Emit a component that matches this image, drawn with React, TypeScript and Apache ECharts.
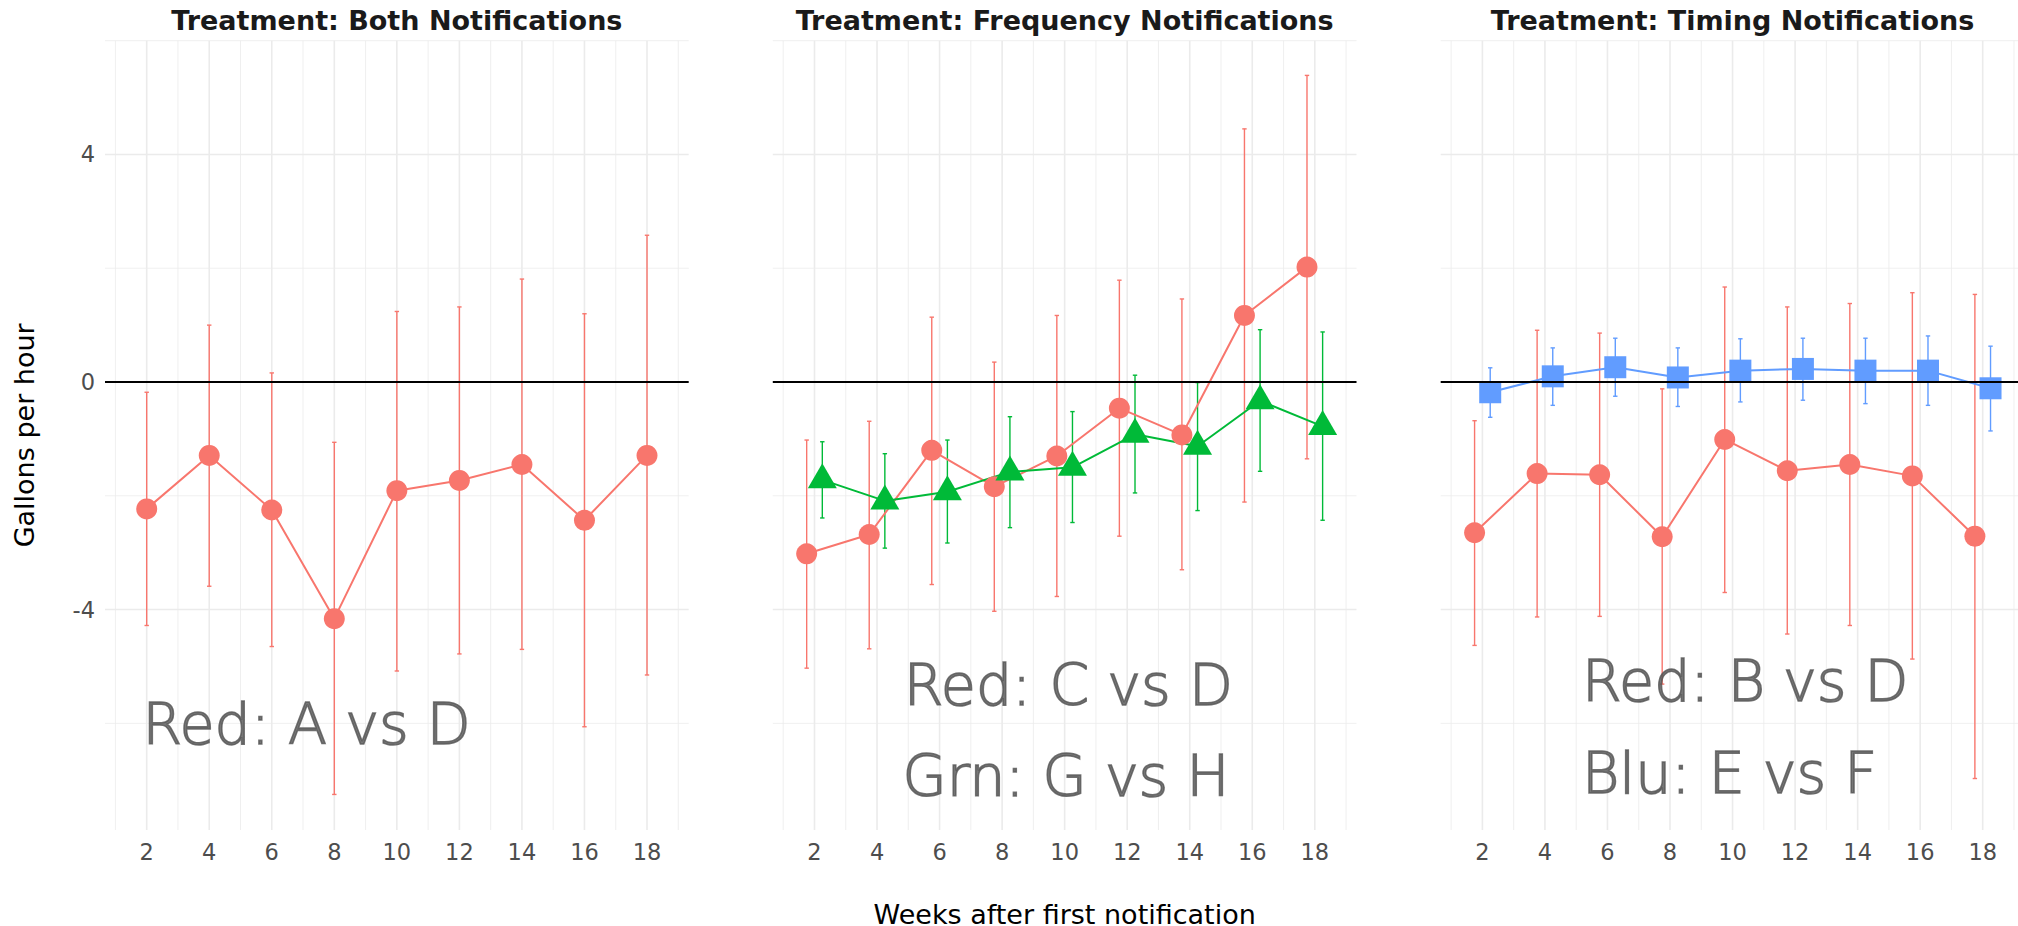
import React, { useEffect, useRef } from "react";
import * as echarts from "echarts";

// ---------- data ----------
const WEEKS = [2, 4, 6, 8, 10, 12, 14, 16, 18];
const X_TICK_LABELS = [2, 4, 6, 8, 10, 12, 14, 16, 18];
const Y_TICK_LABELS = [-4, 0, 4];
const X_MAJOR = [2, 4, 6, 8, 10, 12, 14, 16, 18];
const X_MINOR = [1, 3, 5, 7, 9, 11, 13, 15, 17, 19];
const Y_MAJOR = [-4, 0, 4];
const Y_MINOR = [-6, -2, 2, 6];

const PANEL_TITLES = [
  "Treatment: Both Notifications",
  "Treatment: Frequency Notifications",
  "Treatment: Timing Notifications",
];
const X_TITLE = "Weeks after first notification";
const Y_TITLE = "Gallons per hour";

// Panel 1: Red A vs D
const BOTH_RED_EST = [-2.23, -1.29, -2.25, -4.16, -1.91, -1.73, -1.45, -2.43, -1.29];
const BOTH_RED_LO = [-4.28, -3.59, -4.65, -7.25, -5.08, -4.78, -4.7, -6.06, -5.15];
const BOTH_RED_HI = [-0.18, 1.0, 0.16, -1.06, 1.24, 1.32, 1.81, 1.2, 2.58];

// Panel 2: Red C vs D, Green G vs H
const FREQ_RED_EST = [-3.02, -2.68, -1.2, -1.84, -1.3, -0.46, -0.93, 1.17, 2.02];
const FREQ_RED_LO = [-5.03, -4.69, -3.56, -4.03, -3.77, -2.71, -3.3, -2.11, -1.35];
const FREQ_RED_HI = [-1.02, -0.69, 1.14, 0.35, 1.17, 1.79, 1.46, 4.45, 5.39];
const FREQ_GRN_EST = [-1.72, -2.09, -1.93, -1.58, -1.5, -0.92, -1.13, -0.33, -0.78];
const FREQ_GRN_LO = [-2.39, -2.92, -2.83, -2.56, -2.47, -1.95, -2.26, -1.57, -2.43];
const FREQ_GRN_HI = [-1.05, -1.26, -1.02, -0.61, -0.52, 0.12, -0.01, 0.92, 0.88];

// Panel 3: Red B vs D, Blue E vs F
const TIME_RED_EST = [-2.65, -1.61, -1.63, -2.72, -1.01, -1.56, -1.45, -1.65, -2.71];
const TIME_RED_LO = [-4.63, -4.13, -4.12, -5.31, -3.7, -4.43, -4.28, -4.87, -6.97];
const TIME_RED_HI = [-0.68, 0.91, 0.86, -0.12, 1.67, 1.32, 1.38, 1.57, 1.54];
const TIME_BLU_EST = [-0.18, 0.1, 0.26, 0.08, 0.2, 0.23, 0.2, 0.2, -0.11];
const TIME_BLU_LO = [-0.62, -0.41, -0.25, -0.43, -0.35, -0.32, -0.38, -0.41, -0.86];
const TIME_BLU_HI = [0.25, 0.6, 0.77, 0.6, 0.76, 0.77, 0.77, 0.81, 0.63];

// annotation texts, anchored in data coordinates (left aligned)
const ANNOT_TEXTS = [["Red: A vs D"], ["Red: C vs D", "Grn: G vs H"], ["Red: B vs D", "Blu: E vs F"]];
const ANNOT_X = [[1.85], [4.84, 4.8], [5.17, 5.17]];
const ANNOT_Y = [[-6.02], [-5.32, -6.93], [-5.26, -6.87]];

// ---------- layout / style ----------
const X_MIN = 2 / 3;
const X_MAX = 58 / 3;
const Y_MIN = -7.875;
const Y_MAX = 6;
const GRID_LEFTS = [105, 772.8, 1440.7];
const GRID_W = 583.7;
const GRID_TOP = 40.7;
const GRID_H = 789.3;

const RED = "#F8766D";
const GREEN = "#00BA38";
const BLUE = "#619CFF";
const GRID_COLOR = "#EBEBEB";
const FONT = "DejaVu Sans";

function near(v: number, list: number[]) {
  for (const t of list) if (Math.abs(v - t) < 1e-6) return t;
  return null;
}

function gridSeries(i: number) {
  const data: number[][] = [];
  X_MAJOR.forEach((v) => data.push([v, 1, 1]));
  X_MINOR.forEach((v) => data.push([v, 1, 0]));
  Y_MAJOR.forEach((v) => data.push([v, 0, 1]));
  Y_MINOR.forEach((v) => data.push([v, 0, 0]));
  return {
    type: "custom",
    xAxisIndex: i,
    yAxisIndex: i,
    z: 0,
    silent: true,
    clip: false,
    data,
    renderItem: (_p: any, api: any) => {
      const v = api.value(0);
      const vert = api.value(1) === 1;
      const major = api.value(2) === 1;
      const a = vert ? api.coord([v, Y_MAX]) : api.coord([X_MIN, v]);
      const b = vert ? api.coord([v, Y_MIN]) : api.coord([X_MAX, v]);
      return {
        type: "line",
        shape: { x1: a[0], y1: a[1], x2: b[0], y2: b[1] },
        style: { stroke: GRID_COLOR, lineWidth: major ? 1.6 : 0.8 },
      };
    },
  };
}

function zeroSeries(i: number) {
  return {
    type: "custom",
    xAxisIndex: i,
    yAxisIndex: i,
    z: 10,
    silent: true,
    clip: false,
    data: [[0]],
    renderItem: (_p: any, api: any) => {
      const a = api.coord([X_MIN, api.value(0)]);
      const b = api.coord([X_MAX, api.value(0)]);
      return {
        type: "line",
        shape: { x1: a[0], y1: a[1], x2: b[0], y2: b[1] },
        style: { stroke: "#000000", lineWidth: 2.2 },
      };
    },
  };
}

function errorSeries(i: number, off: number, lo: number[], hi: number[], color: string) {
  return {
    type: "custom",
    xAxisIndex: i,
    yAxisIndex: i,
    z: 2,
    silent: true,
    data: WEEKS.map((w, k) => [w + off, lo[k], hi[k]]),
    encode: { x: 0, y: [1, 2] },
    renderItem: (_p: any, api: any) => {
      const x = api.value(0);
      const t = api.coord([x, api.value(2)]);
      const b = api.coord([x, api.value(1)]);
      const st = { stroke: color, lineWidth: 1.4 };
      return {
        type: "group",
        children: [
          { type: "line", shape: { x1: t[0], y1: t[1], x2: b[0], y2: b[1] }, style: st },
          { type: "line", shape: { x1: t[0] - 2.2, y1: t[1], x2: t[0] + 2.2, y2: t[1] }, style: st },
          { type: "line", shape: { x1: b[0] - 2.2, y1: b[1], x2: b[0] + 2.2, y2: b[1] }, style: st },
        ],
      };
    },
  };
}

function pointSeries(
  i: number,
  off: number,
  est: number[],
  color: string,
  symbol: string,
  size: any,
  symOff: number[] = [0, 0]
) {
  return {
    type: "line",
    xAxisIndex: i,
    yAxisIndex: i,
    z: 3,
    silent: true,
    data: WEEKS.map((w, k) => [w + off, est[k]]),
    symbol,
    symbolSize: size,
    symbolOffset: symOff,
    showSymbol: true,
    lineStyle: { color, width: 2 },
    itemStyle: { color, opacity: 1 },
  };
}

function annotSeries(i: number) {
  return {
    type: "scatter",
    xAxisIndex: i,
    yAxisIndex: i,
    z: 20,
    silent: true,
    clip: false,
    symbolSize: 1,
    itemStyle: { color: "rgba(0,0,0,0)" },
    data: ANNOT_TEXTS[i].map((t, k) => ({
      value: [ANNOT_X[i][k], ANNOT_Y[i][k]],
      label: { formatter: t },
    })),
    label: {
      show: true,
      position: "right",
      distance: 0,
      fontFamily: FONT,
      fontSize: 57,
      fontWeight: 200,
      color: "#555555",
      textBorderColor: "#555555",
      textBorderWidth: 1.6,
    },
  };
}

export default function App() {
  const ref = useRef<HTMLDivElement>(null);

  useEffect(() => {
    if (!ref.current) return;
    const chart = echarts.init(ref.current, undefined, { renderer: "svg" });

    const grids = GRID_LEFTS.map((l) => ({
      left: l,
      top: GRID_TOP,
      width: GRID_W,
      height: GRID_H,
      containLabel: false,
      outerBoundsMode: "none",
    }));

    const xAxes = GRID_LEFTS.map((_, i) => ({
      type: "value",
      gridIndex: i,
      min: X_MIN,
      max: X_MAX,
      interval: 2 / 3,
      axisLine: { show: false },
      axisTick: { show: false },
      splitLine: { show: false },
      axisLabel: {
        show: true,
        margin: 10,
        color: "#4D4D4D",
        fontFamily: FONT,
        fontSize: 22.5,
        showMinLabel: false,
        showMaxLabel: false,
        formatter: (v: number) => {
          const t = near(v, X_TICK_LABELS);
          return t === null ? "" : String(t);
        },
      },
    }));

    const yAxes = GRID_LEFTS.map((_, i) => ({
      type: "value",
      gridIndex: i,
      min: Y_MIN,
      max: Y_MAX,
      interval: 0.125,
      axisLine: { show: false },
      axisTick: { show: false },
      splitLine: { show: false },
      axisLabel: {
        show: i === 0,
        margin: 10,
        color: "#4D4D4D",
        fontFamily: FONT,
        fontSize: 22.5,
        showMinLabel: false,
        showMaxLabel: false,
        formatter: (v: number) => {
          const t = near(v, Y_TICK_LABELS);
          return t === null ? "" : String(t);
        },
      },
    }));

    const series: any[] = [];
    for (let i = 0; i < 3; i++) {
      series.push(gridSeries(i));
      series.push(zeroSeries(i));
    }
    // panel 1
    series.push(errorSeries(0, 0, BOTH_RED_LO, BOTH_RED_HI, RED));
    series.push(pointSeries(0, 0, BOTH_RED_EST, RED, "circle", 21));
    // panel 2
    series.push(errorSeries(1, -0.25, FREQ_RED_LO, FREQ_RED_HI, RED));
    series.push(pointSeries(1, -0.25, FREQ_RED_EST, RED, "circle", 21));
    series.push(errorSeries(1, 0.25, FREQ_GRN_LO, FREQ_GRN_HI, GREEN));
    series.push(pointSeries(1, 0.25, FREQ_GRN_EST, GREEN, "triangle", [29, 25], [0, -4]));
    // panel 3
    series.push(errorSeries(2, -0.25, TIME_RED_LO, TIME_RED_HI, RED));
    series.push(pointSeries(2, -0.25, TIME_RED_EST, RED, "circle", 21));
    series.push(errorSeries(2, 0.25, TIME_BLU_LO, TIME_BLU_HI, BLUE));
    series.push(pointSeries(2, 0.25, TIME_BLU_EST, BLUE, "rect", 22));
    for (let i = 0; i < 3; i++) series.push(annotSeries(i));

    const graphic: any[] = PANEL_TITLES.map((t, i) => ({
      type: "text",
      x: GRID_LEFTS[i] + GRID_W / 2,
      y: 20,
      silent: true,
      style: {
        text: t,
        fontFamily: FONT,
        fontWeight: "bold",
        fontSize: 27,
        fill: "#1A1A1A",
        align: "center",
        verticalAlign: "middle",
      },
    }));
    graphic.push({
      type: "text",
      x: (GRID_LEFTS[0] + GRID_LEFTS[2] + GRID_W) / 2,
      y: 914,
      silent: true,
      style: {
        text: X_TITLE,
        fontFamily: FONT,
        fontSize: 27,
        fill: "#000000",
        align: "center",
        verticalAlign: "middle",
      },
    });
    graphic.push({
      type: "text",
      x: 24,
      y: GRID_TOP + GRID_H / 2,
      rotation: Math.PI / 2,
      silent: true,
      style: {
        text: Y_TITLE,
        fontFamily: FONT,
        fontSize: 27,
        fill: "#000000",
        align: "center",
        verticalAlign: "middle",
      },
    });

    chart.setOption({
      animation: false,
      backgroundColor: "#FFFFFF",
      grid: grids,
      xAxis: xAxes,
      yAxis: yAxes,
      series,
      graphic,
    });

    return () => chart.dispose();
  }, []);

  return (
    <div
      ref={ref}
      style={{ position: "fixed", left: 0, top: 0, width: "2018px", height: "926px" }}
    />
  );
}
